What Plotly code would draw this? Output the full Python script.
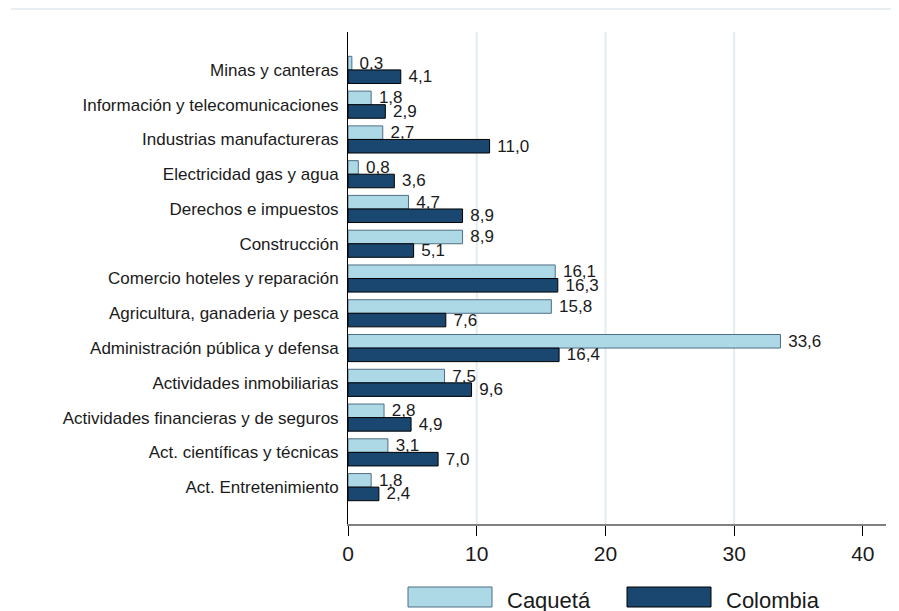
import plotly.graph_objects as go

categories = [
    "Minas y canteras",
    "Información y telecomunicaciones",
    "Industrias manufactureras",
    "Electricidad gas y agua",
    "Derechos e impuestos",
    "Construcción",
    "Comercio hoteles y reparación",
    "Agricultura, ganaderia y pesca",
    "Administración pública y defensa",
    "Actividades inmobiliarias",
    "Actividades financieras y de seguros",
    "Act. científicas y técnicas",
    "Act. Entretenimiento",
]
caqueta = [0.3, 1.8, 2.7, 0.8, 4.7, 8.9, 16.1, 15.8, 33.6, 7.5, 2.8, 3.1, 1.8]
colombia = [4.1, 2.9, 11.0, 3.6, 8.9, 5.1, 16.3, 7.6, 16.4, 9.6, 4.9, 7.0, 2.4]
x_ticks = [0, 10, 20, 30, 40]
grid_x = [10, 20, 30]

C_CAQ = "#add8e6"
C_COL = "#1a476f"
FONT = "Liberation Sans, Arial, sans-serif"

# The page body adds an 8px offset; work in figure pixels = screen pixels - 8
OFF = 8
W, H = 899 - OFF, 611 - OFF
L, T = 348 - OFF, 32 - OFF
R = W - (886 - OFF)
B = H - (524 - OFF)
PW, PH = W - L - R, H - T - B


def px_x(p):
    return (p - OFF - L) / PW


def px_y(p):
    return (H - B - (p - OFF)) / PH


def fmt(v):
    return " " + f"{v:.1f}".replace(".", ",")


fig = go.Figure()
fig.add_trace(go.Bar(
    y=categories, x=caqueta, orientation="h", name="Caquetá",
    marker=dict(color=C_CAQ, line=dict(color="#4f6f85", width=1)),
    text=[fmt(v) for v in caqueta],
    textposition="outside", cliponaxis=False, constraintext="none",
    textfont=dict(family=FONT, size=17, color="#1a1a1a"),
))
fig.add_trace(go.Bar(
    y=categories, x=colombia, orientation="h", name="Colombia",
    marker=dict(color=C_COL, line=dict(color="#000000", width=1)),
    text=[fmt(v) for v in colombia],
    textposition="outside", cliponaxis=False, constraintext="none",
    textfont=dict(family=FONT, size=17, color="#1a1a1a"),
))

shapes = []
for gx in grid_x:
    shapes.append(dict(type="line", xref="x", yref="paper", x0=gx, x1=gx, y0=0, y1=1,
                       line=dict(color="#e3ecf1", width=2), layer="below"))
# top frame line of graph region
shapes.append(dict(type="line", xref="paper", yref="paper",
                   x0=px_x(11), x1=px_x(899),
                   y0=px_y(9), y1=px_y(9),
                   line=dict(color="#e6eef2", width=2)))

legend_items = [("Caquetá", C_CAQ, "#4f6f85", 408), ("Colombia", C_COL, "#000000", 627)]
annotations = []
for name, fill, line, x0 in legend_items:
    shapes.append(dict(type="rect", xref="paper", yref="paper",
                       x0=px_x(x0), x1=px_x(x0 + 84), y0=px_y(587), y1=px_y(607),
                       fillcolor=fill, line=dict(color=line, width=1)))
    annotations.append(dict(xref="paper", yref="paper", x=px_x(x0 + 97), y=px_y(600),
                            text=name, showarrow=False, xanchor="left", yanchor="middle",
                            font=dict(family=FONT, size=22, color="#1a1a1a")))

fig.update_layout(
    width=W, height=H,
    margin=dict(l=L, r=R, t=T, b=B, pad=0),
    paper_bgcolor="white", plot_bgcolor="white",
    barmode="group", bargap=0.22, bargroupgap=0,
    showlegend=False,
    shapes=shapes, annotations=annotations,
    font=dict(family=FONT, color="#1a1a1a"),
    xaxis=dict(range=[0, 41.8], tickvals=x_ticks, ticktext=[str(t) for t in x_ticks],
               showgrid=False, zeroline=False,
               showline=True, linecolor="#808080", linewidth=2,
               ticks="outside", ticklen=10, tickcolor="#000000", tickwidth=1,
               tickfont=dict(family=FONT, size=21, color="#1a1a1a")),
    yaxis=dict(type="category", categoryorder="array", categoryarray=categories,
               range=[13.06, -1.09], showgrid=False, zeroline=False,
               showline=True, linecolor="#000000", linewidth=1,
               ticks="", ticklabelstandoff=5,
               tickfont=dict(family=FONT, size=17, color="#1a1a1a")),
)

fig.write_html("out.html")
